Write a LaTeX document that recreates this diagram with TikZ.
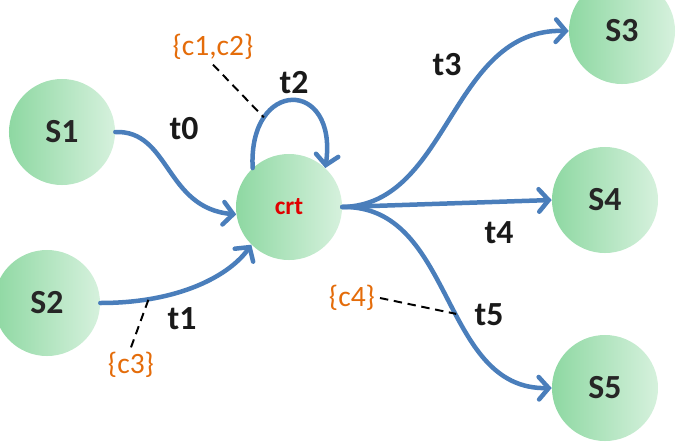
\documentclass[tikz,border=0pt]{standalone}
\usepackage{fontspec}
\setmainfont{Carlito}
\usepackage{tikz}
\usetikzlibrary{arrows.meta,positioning,calc}
\definecolor{sgreenl}{RGB}{142,216,162}
\definecolor{sgreenr}{RGB}{214,241,221}
\definecolor{tblue}{HTML}{4A7EBB}
\definecolor{corange}{HTML}{E46C0A}
\definecolor{cred}{HTML}{E00000}
\tikzset{
  state/.style={circle,minimum size=2.65cm,inner sep=0pt,left color=sgreenl,right color=sgreenr,
    font=\fontsize{24}{26}\selectfont\bfseries,text=black!85},
  trans/.style={-{Straight Barb[length=7pt,width=16pt,line cap=round]},line width=3.2pt,draw=tblue,line cap=round},
  tlbl/.style={font=\fontsize{24}{26}\selectfont\bfseries,text=black!90},
  cond/.style={font=\fontsize{21}{23}\selectfont,text=corange},
  guard/.style={line width=1.4pt,dash pattern=on 6pt off 4pt},
}
\begin{document}
\begin{tikzpicture}[x=0.025cm,y=-0.025cm]
  \useasboundingbox (0,0) rectangle (683,441);
  % states
  \node[state] (s1) at (62,132) {S1};
  \node[state] (s2) at (47,303) {S2};
  \node[state,font=\fontsize{18}{20}\selectfont\bfseries,text=cred] (crt) at (289,207) {crt};
  \node[state] (s3) at (622,31) {S3};
  \node[state] (s4) at (605,200) {S4};
  \node[state] (s5) at (605,388) {S5};
  % transitions
  \draw[trans] (s1.east) .. controls (170,130) and (165,208) .. (crt.188);
  \draw[trans] (s2.east) .. controls (180,303) and (230,275) .. coordinate[pos=0.22] (k1) (crt.225);
  \draw[trans] (crt.133) .. controls (248,78) and (338,78) .. coordinate[pos=0.25] (k2) (crt.47);
  \draw[trans] (crt.east) .. controls (450,205) and (450,28) .. (s3.west);
  \draw[trans] (crt.east) -- (s4.west);
  \draw[trans] (crt.east) .. controls (455,205) and (440,390) .. coordinate[pos=0.56] (k5) (s5.west);
  % labels
  \node[tlbl] (t0) at (184,129) {t0};
  \node[tlbl] (t1) at (182,319) {t1};
  \node[tlbl] (t2) at (294,83) {t2};
  \node[tlbl] (t3) at (447,65) {t3};
  \node[tlbl] (t4) at (499,233) {t4};
  \node[tlbl] (t5) at (489,315) {t5};
  % conditions
  \node[cond] (c12) at (213,47) {\{c1,c2\}};
  \node[cond] (c3) at (131,365) {\{c3\}};
  \node[cond] (c4) at (352,298) {\{c4\}};
  \draw[guard] (c12.south) -- (k2);
  \draw[guard] (c3.north) -- (k1);
  \draw[guard] (c4.east) -- (k5);
\end{tikzpicture}
\end{document}
